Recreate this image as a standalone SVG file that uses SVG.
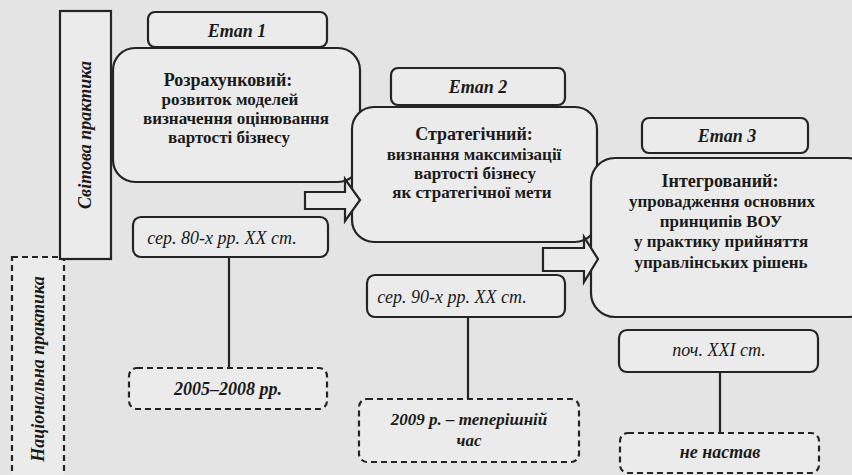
<svg xmlns="http://www.w3.org/2000/svg" width="852" height="475" viewBox="0 0 852 475">
<defs>
<style>
.bg{fill:#e4e4e4}
.box{fill:#ebebeb;stroke:#242424;stroke-width:2.2}
.dash{fill:#ebebeb;stroke:#242424;stroke-width:2.2;stroke-dasharray:6 4}
.line{stroke:#242424;stroke-width:2.2;fill:none}
.arrow{fill:#ebebeb;stroke:#242424;stroke-width:2.2;stroke-linejoin:miter}
text{fill:#1a1a1a;text-anchor:middle}
.h{font-weight:bold;font-size:18px}
.b{font-weight:bold;font-size:17px}
.et{font-weight:bold;font-style:italic;font-size:18px}
.d{font-style:italic;font-size:18px}
.dd{font-style:italic;font-weight:bold;font-size:18px}
.dd2{font-style:italic;font-weight:bold;font-size:17px}
.side{font-weight:bold;font-style:italic;font-size:18px}
</style>
</defs>
<rect class="bg" x="0" y="0" width="852" height="475"/>
<g font-family="Liberation Serif, DejaVu Serif, serif">
<g id="national-practice">
<rect class="dash" x="12" y="257" width="52" height="240"/>
<text class="side" transform="translate(44,369) rotate(-90)">Національна практика</text>
</g>
<g id="world-practice">
<rect class="box" x="60" y="11" width="51" height="248"/>
<text class="side" transform="translate(91,135) rotate(-90)">Світова практика</text>
</g>

<g id="etap1">
<rect class="box" x="148" y="12" width="179" height="35" rx="7"/>
<text class="et" x="237" y="37">Етап 1</text>
</g>
<g id="stage1">
<rect class="box" x="113" y="48" width="247" height="134" rx="22"/>
<text class="h" x="228" y="86">Розрахунковий:</text>
<text class="b" x="230" y="105">розвиток моделей</text>
<text class="b" x="236" y="124">визначення оцінювання</text>
<text class="b" x="229" y="143">вартості бізнесу</text>
</g>

<g id="etap2">
<rect class="box" x="391" y="68" width="174" height="37" rx="7"/>
<text class="et" x="478" y="93">Етап 2</text>
</g>
<g id="stage2">
<rect class="box" x="352" y="107" width="245" height="135" rx="22"/>
<text class="h" x="474" y="140">Стратегічний:</text>
<text class="b" x="474" y="160">визнання максимізації</text>
<text class="b" x="475" y="179">вартості бізнесу</text>
<text class="b" x="472" y="198">як стратегічної мети</text>
</g>

<g id="etap3">
<rect class="box" x="642" y="118" width="166" height="35" rx="7"/>
<text class="et" x="727" y="142">Етап 3</text>
</g>
<g id="stage3">
<rect class="box" x="591" y="158" width="280" height="159" rx="24"/>
<text class="h" x="720" y="187">Інтегрований:</text>
<text class="b" x="722" y="207">упровадження основних</text>
<text class="b" x="721" y="227">принципів ВОУ</text>
<text class="b" x="721" y="247">у практику прийняття</text>
<text class="b" x="721" y="268">управлінських рішень</text>
</g>

<g id="date1">
<rect class="box" x="133" y="217" width="195" height="40" rx="8"/>
<text class="d" x="222" y="244">сер. 80-х рр. ХХ ст.</text>
</g>
<g id="date1-national">
<rect class="dash" x="129" y="368" width="198" height="41" rx="8"/>
<text class="dd" x="228" y="395">2005–2008 рр.</text>
</g>
<g id="date2">
<rect class="box" x="367" y="275" width="198" height="42" rx="8"/>
<text class="d" x="452" y="303">сер. 90-х рр. ХХ ст.</text>
</g>
<g id="date2-national">
<rect class="dash" x="359" y="399" width="220" height="63" rx="8"/>
<text class="dd2" x="469" y="425">2009 р. – теперішній</text>
<text class="dd2" x="469" y="446">час</text>
</g>
<g id="date3">
<rect class="box" x="619" y="330" width="199" height="42" rx="8"/>
<text class="d" x="719" y="356">поч. XXI ст.</text>
</g>
<g id="date3-national">
<rect class="dash" x="620" y="433" width="199" height="40" rx="8"/>
<text class="dd" x="720" y="458">не настав</text>
</g>

<g id="connectors">
<line class="line" x1="229" y1="257" x2="229" y2="368"/>
<line class="line" x1="468" y1="317" x2="468" y2="399"/>
<line class="line" x1="720" y1="372" x2="720" y2="433"/>
<polygon class="arrow" points="305,192 345,192 345,179 360,200 345,221 345,209 305,209"/>
<polygon class="arrow" points="543,248 584,248 584,237 598,259 584,282 584,271 543,271"/>
</g>
</g>
</svg>
